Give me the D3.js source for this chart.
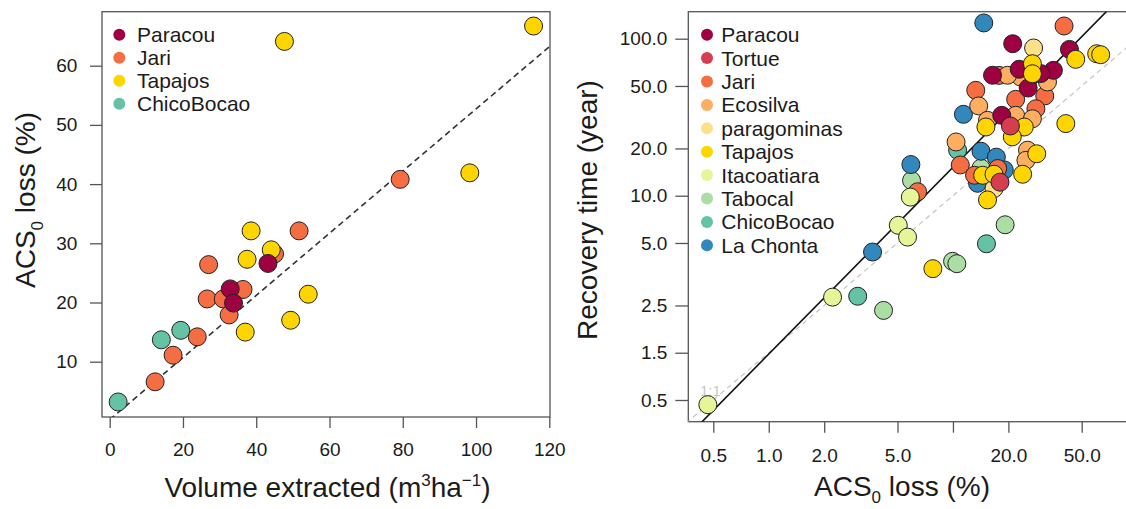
<!DOCTYPE html>
<html>
<head>
<meta charset="utf-8">
<script src="https://cdn.jsdelivr.net/npm/d3@7"></script>
<style>
  body { margin: 0; background: #fff; }
  svg { display: block; font-family: "Liberation Sans", Arial, sans-serif; }
</style>
</head>
<body>
<svg id="chart" width="1126" height="509"></svg>
<script>
// left panel: volume extracted vs ACS0 loss
const leftSites = ['Paracou', 'Jari', 'Tapajos', 'ChicoBocao'];
const volParacou = [[43.2, 26.6], [32.9, 22.3], [33.8, 19.9]];
const volJari = [[79.3, 40.8], [51.7, 32.1], [45.0, 28.2], [27.0, 26.4], [36.4, 22.2], [26.6, 20.6],
  [31.0, 20.6], [32.6, 17.9], [23.9, 14.2], [17.3, 11.1], [12.4, 6.6]];
const volTapajos = [[115.7, 66.7], [47.7, 64.1], [98.3, 41.9], [38.6, 32.1], [44.1, 28.9], [37.5, 27.3],
  [54.2, 21.4], [49.4, 17.0], [37.0, 15.0]];
const volChicoBocao = [[19.4, 15.3], [14.1, 13.7], [2.3, 3.2]];
const volFit = { slope: 0.525, intercept: 0.2 };
const volTicks = [0, 20, 40, 60, 80, 100, 120];
const lossTicks = [10, 20, 30, 40, 50, 60];

// right panel: ACS0 loss vs recovery time
const rightSites = ['Paracou', 'Tortue', 'Jari', 'Ecosilva', 'paragominas', 'Tapajos',
  'Itacoatiara', 'Tabocal', 'ChicoBocao', 'La Chonta'];
const recParacou = [[21.1, 92.9], [42.9, 85.5], [16.4, 58.5], [22.9, 63.9], [35.1, 62.9], [30, 60],
  [25.6, 48.5], [18.4, 32.5]];
const recTortue = [[20.5, 27.8], [18.0, 12.2]];
const recJari = [[40.1, 120.5], [13.3, 46.9], [21.9, 41.1], [31.5, 43.2], [28.2, 35.8], [10.96, 15.7],
  [6.43, 10.6], [17.8, 58.4], [13.1, 13.5], [17.5, 14.9]];
const recEcosilva = [[13.8, 37.3], [10.4, 22.0], [23.3, 57.0], [32.6, 53.0], [15.4, 30.2], [21.9, 32.5],
  [27.0, 30.9], [25.4, 19.5], [24.9, 16.8], [19.8, 58.5]];
const recParagominas = [[27.4, 87.3], [16.7, 11.1]];
const recTapajos = [[46.4, 73.9], [60.3, 80.2], [63.4, 79.1], [27.0, 69.3], [27.0, 59.8], [41.0, 28.8],
  [15.1, 27.4], [24.4, 27.4], [21.0, 23.7], [28.5, 18.5], [23.9, 13.7], [14.5, 13.5], [16.7, 13.7],
  [15.4, 9.4], [7.78, 3.43]];
const recItacoatiara = [[0.467, 0.467], [2.22, 2.26], [5.05, 6.48], [5.67, 5.45], [5.87, 9.8]];
const recTabocal = [[5.96, 12.5], [19.2, 6.53], [9.95, 3.82], [10.5, 3.69], [4.2, 1.86], [14.2, 15.0]];
const recChicoBocao = [[3.04, 2.29], [15.2, 4.94], [10.6, 19.5]];
const recLaChonta = [[14.7, 126], [11.4, 33.0], [5.91, 15.8], [14.2, 19.2], [17.2, 17.6], [3.66, 4.38],
  [13.6, 12.0], [19, 14.6]];
const recFit = { exponent: 1.19, coef: 0.98 };
const acsTicks = [0.5, 1, 2, 5, 10, 20, 50];
const acsTickLabels = ['0.5', '1.0', '2.0', '5.0', '', '20.0', '50.0'];
const recTicks = [100, 50, 20, 10, 5, 2, 1, 0.5];
const recTickLabels = ['100.0', '50.0', '20.0', '10.0', '5.0', '2.5', '1.5', '0.5'];

const siteColor = {
  Paracou: '#9e0142',
  Tortue: '#d53e4f',
  Jari: '#f46d43',
  Ecosilva: '#fdae61',
  paragominas: '#fee08b',
  Tapajos: '#ffd500',
  Itacoatiara: '#e6f598',
  Tabocal: '#abdda4',
  ChicoBocao: '#66c2a5',
  'La Chonta': '#3288bd',
};

const svg = d3.select('#chart');
const textColor = '#1b1b1b';
const boxColor = '#555';

// scales
const xL = d3.scaleLinear().domain([0, 120]).range([109.7, 549.3]);
const yL = d3.scaleLinear().domain([0, 60]).range([420.9, 65.7]);
const xR = d3.scaleLog().domain([0.5, 50]).range([713.3, 1081.7]);
const yR = d3.scaleLog().domain([0.5, 100]).range([400, 38.7]);

const boxL = { x0: 102, x1: 550, y0: 11.7, y1: 417 };
const boxR = { x0: 688.3, x1: 1140, y0: 11.7, y1: 421.7 };

const defs = svg.append('defs');
[['clipL', boxL], ['clipR', boxR]].forEach(([id, b]) => {
  defs.append('clipPath').attr('id', id).append('rect')
    .attr('x', b.x0).attr('y', b.y0).attr('width', b.x1 - b.x0).attr('height', b.y1 - b.y0);
});

function drawBox(b) {
  svg.append('rect')
    .attr('x', b.x0).attr('y', b.y0)
    .attr('width', b.x1 - b.x0).attr('height', b.y1 - b.y0)
    .attr('fill', 'none').attr('stroke', boxColor).attr('stroke-width', 1.3);
}

function styleAxis(g) {
  g.select('.domain').remove();
  g.selectAll('.tick line').attr('stroke', boxColor).attr('stroke-width', 1.3);
  g.selectAll('.tick text').attr('fill', textColor).attr('font-size', 19)
    .attr('font-family', '"Liberation Sans", Arial, sans-serif');
}

// ---- left panel ----
drawBox(boxL);

svg.append('g').attr('transform', `translate(0,${boxL.y1})`)
  .call(d3.axisBottom(xL).tickValues(volTicks).tickSize(11).tickPadding(15).tickSizeOuter(0))
  .call(styleAxis);
svg.append('g').attr('transform', `translate(${boxL.x0},0)`)
  .call(d3.axisLeft(yL).tickValues(lossTicks).tickSize(12).tickPadding(12.7).tickSizeOuter(0))
  .call(styleAxis);

const plotL = svg.append('g').attr('clip-path', 'url(#clipL)');
const fitLine = d3.line().x(d => xL(d)).y(d => yL(volFit.intercept + volFit.slope * d));
plotL.append('path')
  .attr('d', fitLine(xL.domain()))
  .attr('fill', 'none').attr('stroke', '#333').attr('stroke-width', 1.6)
  .attr('stroke-dasharray', '6,4');

const leftDraw = [['Jari', volJari], ['Tapajos', volTapajos], ['Paracou', volParacou], ['ChicoBocao', volChicoBocao]];
leftDraw.forEach(([site, pts]) => {
  plotL.selectAll(null).data(pts).join('circle')
    .attr('cx', d => xL(d[0])).attr('cy', d => yL(d[1])).attr('r', 9)
    .attr('fill', siteColor[site]).attr('stroke', '#222').attr('stroke-width', 1);
});

const legL = svg.append('g');
leftSites.forEach((s, i) => {
  const y = 34.7 + i * 23;
  legL.append('circle').attr('cx', 119.3).attr('cy', y).attr('r', 6).attr('fill', siteColor[s]);
  legL.append('text').attr('x', 137).attr('y', y).attr('dy', '0.36em')
    .attr('font-size', 21).attr('fill', textColor).text(s);
});

// left titles
const xtL = svg.append('text').attr('x', 327.5).attr('y', 497).attr('text-anchor', 'middle')
  .attr('font-size', 28).attr('fill', textColor);
xtL.append('tspan').text('Volume extracted (m');
xtL.append('tspan').attr('font-size', 17).attr('dy', -11).text('3');
xtL.append('tspan').attr('dy', 11).text('ha');
xtL.append('tspan').attr('font-size', 17).attr('dy', -11).text('\u22121');
xtL.append('tspan').attr('dy', 11).text(')');

const ytL = svg.append('text').attr('transform', 'translate(35,200) rotate(-90)')
  .attr('text-anchor', 'middle').attr('font-size', 28).attr('fill', textColor);
ytL.append('tspan').text('ACS');
ytL.append('tspan').attr('font-size', 17).attr('dy', 8).text('0');
ytL.append('tspan').attr('dy', -8).text(' loss (%)');

// ---- right panel ----
drawBox(boxR);

svg.append('g').attr('transform', `translate(0,${boxR.y1})`)
  .call(d3.axisBottom(xR).tickValues(acsTicks).tickFormat((d, i) => acsTickLabels[i])
    .tickSize(11).tickPadding(15.5).tickSizeOuter(0))
  .call(styleAxis);
svg.append('g').attr('transform', `translate(${boxR.x0},0)`)
  .call(d3.axisLeft(yR).tickValues(recTicks).tickFormat((d, i) => recTickLabels[i])
    .tickSize(13).tickPadding(8).tickSizeOuter(0))
  .call(styleAxis);

const plotR = svg.append('g').attr('clip-path', 'url(#clipR)');
const xsR = [0.3, 120];
plotR.append('path')
  .attr('d', d3.line().x(d => xR(d)).y(d => yR(d))(xsR))
  .attr('fill', 'none').attr('stroke', '#c4c4c4').attr('stroke-width', 1.2)
  .attr('stroke-dasharray', '5,4');
plotR.append('path')
  .attr('d', d3.line().x(d => xR(d)).y(d => yR(recFit.coef * Math.pow(d, recFit.exponent)))(xsR))
  .attr('fill', 'none').attr('stroke', '#111').attr('stroke-width', 1.6);

plotR.append('text').attr('x', 700).attr('y', 396).attr('font-size', 15)
  .attr('fill', '#c8c8c8').text('1:1');

const rightDraw = [
  ['ChicoBocao', recChicoBocao], ['Tabocal', recTabocal], ['La Chonta', recLaChonta],
  ['Jari', recJari], ['Ecosilva', recEcosilva], ['Itacoatiara', recItacoatiara],
  ['paragominas', recParagominas], ['Paracou', recParacou], ['Tapajos', recTapajos],
  ['Tortue', recTortue],
];
rightDraw.forEach(([site, pts]) => {
  plotR.selectAll(null).data(pts).join('circle')
    .attr('cx', d => xR(d[0])).attr('cy', d => yR(d[1])).attr('r', 9)
    .attr('fill', siteColor[site]).attr('stroke', '#222').attr('stroke-width', 1);
});

const legR = svg.append('g');
rightSites.forEach((s, i) => {
  const y = 34.7 + i * 23.4;
  legR.append('circle').attr('cx', 707).attr('cy', y).attr('r', 6).attr('fill', siteColor[s]);
  legR.append('text').attr('x', 721.3).attr('y', y).attr('dy', '0.36em')
    .attr('font-size', 21).attr('fill', textColor).text(s);
});

const xtR = svg.append('text').attr('x', 902).attr('y', 496).attr('text-anchor', 'middle')
  .attr('font-size', 28).attr('fill', textColor);
xtR.append('tspan').text('ACS');
xtR.append('tspan').attr('font-size', 17).attr('dy', 7).text('0');
xtR.append('tspan').attr('dy', -7).text(' loss (%)');

svg.append('text').attr('transform', 'translate(597,210) rotate(-90)')
  .attr('text-anchor', 'middle').attr('font-size', 28).attr('fill', textColor)
  .text('Recovery time (year)');
</script>
</body>
</html>
